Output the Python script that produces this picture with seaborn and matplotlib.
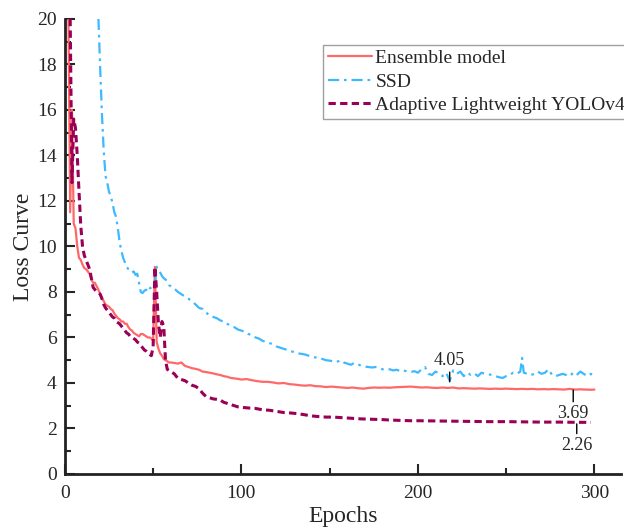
import numpy as np
import pandas as pd
import matplotlib
matplotlib.use("Agg")
import matplotlib.pyplot as plt
import seaborn as sns
from matplotlib.ticker import MultipleLocator

# ----- data -----
ens_epoch = [2, 3, 4, 5, 6, 7, 8, 9, 10, 11, 12, 13, 14, 15, 16, 17, 18, 19, 20,
             21, 22, 23, 24, 25, 26, 27, 28, 29, 30, 31, 32, 33, 34, 35, 36, 37, 38, 39, 40,
             41, 42, 43, 44, 45, 46, 47, 48, 49, 50, 51, 52, 53, 54, 55, 56, 57, 58, 59, 60,
             62, 64, 66, 68, 70, 72, 74, 76, 78, 80, 82, 84, 86, 88, 90, 92, 94, 96, 98, 100,
             103, 106, 109, 112, 115, 118, 121, 124, 127, 130, 133, 136, 139, 142, 145, 148,
             151, 154, 157, 160, 163, 166, 169, 172, 175, 178, 181, 184, 187, 190, 193, 196,
             199, 202, 205, 208, 211, 214, 217, 220, 223, 226, 229, 232, 235, 238, 241, 244,
             247, 250, 253, 256, 259, 262, 265, 268, 271, 274, 277, 280, 283, 286, 289, 292,
             295, 298, 300]
ens_loss = [20.0, 11.5, 16.0, 11.0, 10.8, 10.0, 9.5, 9.4, 9.2, 9.05, 9.0, 8.9, 8.8, 8.55, 8.4, 8.4, 8.25, 8.1, 7.9,
            7.7, 7.6, 7.45, 7.4, 7.35, 7.25, 7.2, 7.05, 6.95, 6.85, 6.8, 6.7, 6.7, 6.6, 6.6, 6.45, 6.35, 6.3, 6.2, 6.15,
            6.1, 6.05, 6.15, 6.15, 6.1, 6.05, 6.0, 6.0, 5.95, 5.85, 9.1, 5.8, 5.5, 5.3, 5.2, 5.05, 5.0, 4.95, 4.9, 4.9,
            4.88, 4.85, 4.9, 4.75, 4.7, 4.65, 4.62, 4.58, 4.5, 4.48, 4.45, 4.42, 4.38, 4.35, 4.3, 4.27, 4.22, 4.2, 4.18, 4.15,
            4.17, 4.12, 4.08, 4.05, 4.05, 4.02, 3.98, 4.0, 3.95, 3.93, 3.9, 3.88, 3.9, 3.86, 3.85, 3.82,
            3.84, 3.82, 3.8, 3.78, 3.8, 3.77, 3.75, 3.78, 3.8, 3.79, 3.8, 3.79, 3.81, 3.82, 3.83, 3.84,
            3.82, 3.8, 3.81, 3.79, 3.78, 3.8, 3.78, 3.8, 3.76, 3.77, 3.76, 3.75, 3.76, 3.75, 3.74, 3.75,
            3.74, 3.75, 3.74, 3.73, 3.74, 3.73, 3.74, 3.72, 3.73, 3.72, 3.73, 3.72, 3.71, 3.74, 3.71, 3.72,
            3.71, 3.7, 3.71]

ssd_epoch = [19, 20, 21, 22, 23, 24, 25, 26, 27, 28, 29, 30, 31, 32, 33, 34, 35, 36, 37, 38, 39, 40,
             41, 42, 43, 44, 45, 46, 47, 48, 49, 50, 51, 52, 53, 54, 55, 56, 57, 58, 59, 60,
             62, 64, 66, 68, 70, 72, 74, 76, 78, 80, 82, 84, 86, 88, 90, 92, 94, 96, 98, 100,
             102, 104, 106, 108, 110, 112, 114, 116, 118, 120, 122, 124, 126, 128, 130, 132, 134,
             136, 138, 140, 142, 144, 146, 148, 150, 152, 154, 156, 158, 160, 162, 164, 166, 168,
             170, 172, 174, 176, 178, 180, 182, 184, 186, 188, 190, 192, 194, 196, 198, 200, 202,
             204, 206, 208, 210, 212, 214, 216, 218, 220, 222, 224, 226, 228, 230, 232, 234, 236,
             238, 240, 242, 244, 246, 248, 250, 252, 254, 256, 258, 259, 260, 262, 264, 266, 268,
             270, 272, 274, 276, 278, 280, 282, 284, 286, 288, 290, 292, 294, 296, 298, 300]
ssd_loss = [20.0, 17.8, 15.8, 14.2, 13.1, 12.8, 12.4, 12.2, 11.9, 11.5, 11.3, 10.8, 10.2, 9.8, 9.5, 9.3, 9.1, 9.0, 8.95, 8.85, 8.9, 8.75,
            8.8, 8.4, 8.0, 7.95, 8.05, 8.1, 8.0, 8.15, 8.2, 8.25, 8.3, 9.1, 9.0, 8.85, 8.7, 8.6, 8.55, 8.45, 8.3, 8.25,
            8.15, 8.0, 7.9, 7.8, 7.7, 7.6, 7.45, 7.3, 7.25, 7.1, 6.95, 6.9, 6.85, 6.75, 6.7, 6.6, 6.5, 6.45, 6.35, 6.3,
            6.25, 6.15, 6.1, 6.0, 5.95, 5.85, 5.8, 5.75, 5.7, 5.6, 5.55, 5.5, 5.45, 5.4, 5.35, 5.3, 5.28,
            5.25, 5.2, 5.15, 5.12, 5.1, 5.05, 5.0, 4.98, 4.95, 4.92, 5.0, 4.9, 4.85, 4.8, 4.88, 4.82, 4.75,
            4.72, 4.7, 4.68, 4.7, 4.65, 4.6, 4.62, 4.6, 4.55, 4.58, 4.52, 4.55, 4.5, 4.48, 4.52, 4.45, 4.6,
            4.7, 4.4, 4.35, 4.5, 4.42, 4.3, 4.45, 4.1, 4.55, 4.4, 4.5, 4.3, 4.45, 4.35, 4.42, 4.3, 4.45,
            4.4, 4.38, 4.35, 4.3, 4.25, 4.22, 4.3, 4.35, 4.45, 4.4, 4.5, 5.1, 4.45, 4.4, 4.35, 4.4, 4.5,
            4.4, 4.45, 4.6, 4.35, 4.3, 4.35, 4.4, 4.35, 4.3, 4.45, 4.35, 4.5, 4.4, 4.3, 4.4, 4.3]

yolo_epoch = [3, 4, 5, 6, 7, 8, 9, 10, 11, 12, 13, 14, 15, 16, 17, 18, 19, 20,
              21, 22, 23, 24, 25, 26, 27, 28, 29, 30, 31, 32, 33, 34, 35, 36, 37, 38, 39, 40,
              41, 42, 43, 44, 45, 46, 47, 48, 49, 50, 51, 52, 53, 54, 55, 56, 57, 58, 59, 60,
              62, 64, 66, 68, 70, 72, 74, 76, 78, 80, 82, 84, 86, 88, 90, 92, 94, 96, 98, 100,
              104, 108, 112, 116, 120, 124, 128, 132, 136, 140, 144, 148, 152, 156, 160, 164,
              168, 172, 176, 180, 184, 188, 192, 196, 200, 210, 220, 230, 240, 250, 260, 270,
              280, 290, 298]
yolo_loss = [20.0, 12.8, 15.6, 15.2, 14.0, 12.4, 10.9, 10.0, 9.6, 9.4, 9.2, 9.0, 8.6, 8.2, 8.1, 8.0, 7.95, 7.9,
             7.7, 7.45, 7.3, 7.2, 7.1, 7.0, 6.9, 6.85, 6.7, 6.65, 6.6, 6.5, 6.4, 6.3, 6.2, 6.15, 6.05, 6.0, 5.95, 5.9,
             5.8, 5.75, 5.65, 5.55, 5.45, 5.4, 5.3, 5.25, 5.2, 5.6, 9.1, 8.0, 6.6, 6.0, 6.7, 6.5, 5.0, 4.6, 4.55, 4.5,
             4.4, 4.2, 4.15, 4.1, 4.0, 3.9, 3.85, 3.75, 3.55, 3.4, 3.35, 3.3, 3.28, 3.25, 3.15, 3.1, 3.05, 3.0, 2.95, 2.93,
             2.9, 2.88, 2.82, 2.8, 2.75, 2.7, 2.68, 2.65, 2.6, 2.55, 2.52, 2.5, 2.5, 2.48, 2.46, 2.44,
             2.42, 2.41, 2.4, 2.39, 2.37, 2.36, 2.35, 2.34, 2.34, 2.33, 2.32, 2.31, 2.3, 2.3, 2.29, 2.28,
             2.28, 2.27, 2.27]

# ----- style -----
sns.set_style("ticks")
plt.rcParams["font.family"] = ["Liberation Serif", "DejaVu Serif"]

fig = plt.figure(figsize=(6.24, 5.28), dpi=100)
ax = fig.add_axes([0.104, 0.1023, 0.891, 0.862])

sns.lineplot(x=ens_epoch, y=ens_loss, ax=ax, color="#FF6868", linewidth=1.6,
             label="Ensemble model", sort=False)
sns.lineplot(x=ssd_epoch, y=ssd_loss, ax=ax, color="#3DB9FF", linewidth=1.6,
             linestyle=(0, (5, 2.2, 1.2, 2.2)), label="SSD", sort=False)
sns.lineplot(x=yolo_epoch, y=yolo_loss, ax=ax, color="#990056", linewidth=2.2,
             linestyle=(0, (2.4, 1.4)), label="Adaptive Lightweight YOLOv4", sort=False)

ax.set_xlim(0, 315)
ax.set_ylim(0, 20)
ax.xaxis.set_major_locator(MultipleLocator(100))
ax.xaxis.set_minor_locator(MultipleLocator(50))
ax.yaxis.set_major_locator(MultipleLocator(2))
ax.yaxis.set_minor_locator(MultipleLocator(1))
ax.tick_params(which="major", direction="in", length=7, width=1.5, labelsize=14)
ax.tick_params(axis="y", which="major", pad=6)
ax.tick_params(axis="x", which="major", pad=8)
ax.tick_params(which="minor", direction="in", length=4, width=1.5)
sns.despine(ax=ax)
for side in ["left", "bottom"]:
    ax.spines[side].set_linewidth(2)
    ax.spines[side].set_color("#222222")

ax.set_xlabel("Epochs", fontsize=17, labelpad=3)
ax.set_ylabel("Loss Curve", fontsize=17, labelpad=2)

# annotations for final values (vertical leader lines)
line_kw = dict(arrowstyle="-", color="black", lw=1, shrinkA=0, shrinkB=0)
ax.annotate("4.05", xy=(218, 4.05), xytext=(218, 4.62), ha="center", va="bottom",
            fontsize=13, arrowprops=line_kw)
ax.annotate("3.69", xy=(288, 3.69), xytext=(288, 3.03), ha="center", va="top",
            fontsize=13, arrowprops=line_kw)
ax.annotate("2.26", xy=(290, 2.2), xytext=(290, 1.63), ha="center", va="top",
            fontsize=13, arrowprops=line_kw)

leg = ax.legend(loc="upper left", bbox_to_anchor=(0.464, 0.943), fontsize=14,
                frameon=True, fancybox=False, handlelength=2.3, handletextpad=0.15,
                borderpad=0.25, labelspacing=0.3, borderaxespad=0)
leg.get_frame().set_edgecolor("#888888")
leg.get_frame().set_linewidth(1.0)

fig.savefig("out.png", dpi=100)
